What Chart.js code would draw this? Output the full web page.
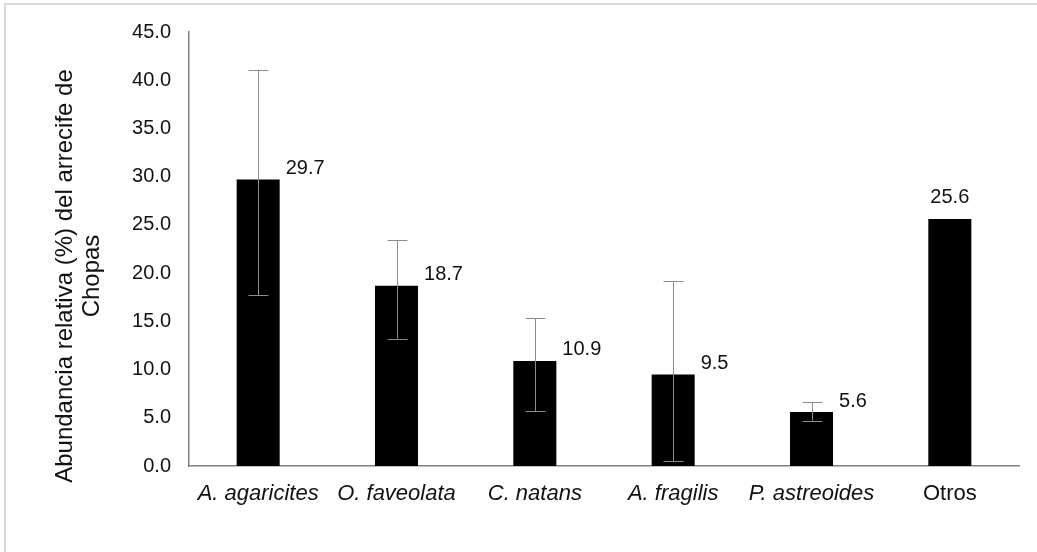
<!DOCTYPE html>
<html>
<head>
<meta charset="utf-8">
<script src="https://cdn.jsdelivr.net/npm/chart.js@4.4.1/dist/chart.umd.min.js"></script>
<style>
  html, body { margin: 0; padding: 0; background: #fff; }
  #wrap { position: relative; width: 1037px; height: 552px; overflow: hidden; }
  #frame { position: absolute; left: 4px; top: 3px; width: 1100px; height: 600px;
           border-top: 2px solid #d9d9d9; border-left: 2px solid #d9d9d9; pointer-events: none; }
  canvas { position: absolute; left: 0; top: 0; }
</style>
</head>
<body>
<div id="wrap">
  <canvas id="c" width="1037" height="552"></canvas>
  <div id="frame"></div>
</div>
<script>
// ---- data ----
const categories = ['A. agaricites', 'O. faveolata', 'C. natans', 'A. fragilis', 'P. astreoides', 'Otros'];
const values     = [29.7, 18.7, 10.9, 9.5, 5.6, 25.6];
const errLow     = [17.7, 13.2, 5.7, 0.5, 4.7, null];
const errHigh    = [41.1, 23.4, 15.3, 19.2, 6.6, null];
const italicCats = [true, true, true, true, true, false];
const yTitleLines = ['Abundancia relativa (%) del arrecife de', 'Chopas'];
const yMin = 0, yMax = 45, yStep = 5;

const FONT = '"Liberation Sans", Arial, Helvetica, sans-serif';

const errorBars = {
  id: 'errorBars',
  afterDatasetsDraw(chart) {
    const ctx = chart.ctx;
    const meta = chart.getDatasetMeta(0);
    const ys = chart.scales.y;
    ctx.save();
    ctx.strokeStyle = '#8c8c8c';
    ctx.lineWidth = 1;
    meta.data.forEach((bar, i) => {
      if (errLow[i] == null || errHigh[i] == null) return;
      const x = Math.round(bar.x) + 0.5;
      const y1 = ys.getPixelForValue(errLow[i]);
      const y2 = ys.getPixelForValue(errHigh[i]);
      const cap = 10;
      ctx.beginPath();
      ctx.moveTo(x, y1); ctx.lineTo(x, y2);
      ctx.moveTo(x - cap, Math.round(y1) + 0.5); ctx.lineTo(x + cap, Math.round(y1) + 0.5);
      ctx.moveTo(x - cap, Math.round(y2) + 0.5); ctx.lineTo(x + cap, Math.round(y2) + 0.5);
      ctx.stroke();
    });
    ctx.restore();
  }
};

const valueLabels = {
  id: 'valueLabels',
  afterDatasetsDraw(chart) {
    const ctx = chart.ctx;
    const meta = chart.getDatasetMeta(0);
    ctx.save();
    ctx.fillStyle = '#111';
    ctx.font = '20px ' + FONT;
    ctx.textBaseline = 'middle';
    meta.data.forEach((bar, i) => {
      const txt = values[i].toFixed(1);
      if (errLow[i] != null) {
        ctx.textAlign = 'left';
        ctx.fillText(txt, bar.x + bar.width / 2 + 6, bar.y - 11);
      } else {
        ctx.textAlign = 'center';
        ctx.fillText(txt, bar.x, bar.y - 22);
      }
    });
    ctx.restore();
  }
};

const yTitle = {
  id: 'yTitle',
  afterDraw(chart) {
    const ctx = chart.ctx;
    const a = chart.chartArea;
    ctx.save();
    ctx.translate(a.left - 117, (a.top + a.bottom) / 2 + 27);
    ctx.rotate(-Math.PI / 2);
    ctx.fillStyle = '#111';
    ctx.font = '24px ' + FONT;
    ctx.textAlign = 'center';
    ctx.textBaseline = 'alphabetic';
    yTitleLines.forEach((line, k) => ctx.fillText(line, 0, k * 27));
    ctx.restore();
  }
};

new Chart(document.getElementById('c'), {
  type: 'bar',
  data: {
    labels: categories,
    datasets: [{
      data: values,
      backgroundColor: '#000',
      borderWidth: 0,
      categoryPercentage: 1,
      barPercentage: 0.311
    }]
  },
  options: {
    responsive: false,
    animation: false,
    devicePixelRatio: 1,
    layout: { padding: { left: 132, top: 32, right: 18, bottom: 0 } },
    plugins: { legend: { display: false }, tooltip: { enabled: false }, title: { display: false } },
    scales: {
      x: {
        offset: true,
        grid: { display: false, drawTicks: false },
        border: { display: true, color: '#808080', width: 1.5 },
        ticks: {
          padding: 15,
          color: '#111',
          maxRotation: 0,
          autoSkip: false,
          font: (c) => ({ family: FONT, size: 22, style: italicCats[c.index] ? 'italic' : 'normal' })
        },
        afterFit(s) { s.height = 86; }
      },
      y: {
        min: yMin, max: yMax,
        grid: { display: false, drawTicks: false },
        border: { display: true, color: '#808080', width: 1.5 },
        ticks: {
          stepSize: yStep,
          padding: 18,
          color: '#111',
          font: { family: FONT, size: 20 },
          callback: (v) => Number(v).toFixed(1)
        },
        afterFit(s) { s.width = 57; }
      }
    }
  },
  plugins: [errorBars, valueLabels, yTitle]
});
</script>
</body>
</html>
